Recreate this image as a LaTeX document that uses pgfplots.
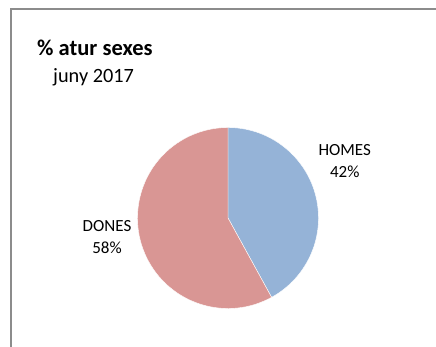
\documentclass[border=0pt]{standalone}
\usepackage{pgfplots}
\usepackage{pgfplotstable}
\usepackage{fontspec}
\setmainfont{Carlito}
\pgfplotsset{compat=1.18}
\definecolor{homes}{HTML}{95B3D7}
\definecolor{dones}{HTML}{D99694}
\definecolor{frame}{HTML}{8C8C8C}
\pgfplotstableread{
label value
HOMES 42
DONES 58
}\piedata
\begin{document}
\begin{tikzpicture}[x=1pt,y=1pt]
\useasboundingbox (0,0) rectangle (436,347);
\draw[frame, line width=1.4pt] (11,0) -- (11,338) -- (436,338);
\node[anchor=base west, inner sep=0pt, font=\fontsize{22.5}{26}\selectfont\bfseries] at (37,291) {\% atur sexes};
\node[anchor=base west, inner sep=0pt, font=\fontsize{20.3}{24}\selectfont] at (53,264) {juny 2017};
\pgfplotstablegetelem{0}{value}\of\piedata \let\va\pgfplotsretval
\pgfplotstablegetelem{1}{value}\of\piedata \let\vb\pgfplotsretval
\pgfmathsetmacro{\aend}{90-3.6*\va}
\begin{axis}[
  at={(228pt,129pt)}, anchor=origin,
  scale only axis, width=181pt, height=181pt,
  xmin=-1, xmax=1, ymin=-1, ymax=1,
  hide axis, clip=false,
]
\fill[homes, draw=white, line width=0.4pt] (axis cs:0,0) -- (axis cs:0,1) arc[start angle=90, end angle=\aend, radius=90.5pt] -- cycle;
\fill[dones, draw=white, line width=0.4pt] (axis cs:0,0) -- (axis cs:{cos(\aend)},{sin(\aend)}) arc[start angle=\aend, end angle=-270, radius=90.5pt] -- cycle;
\node[align=center, font=\fontsize{17}{22}\selectfont, inner sep=0pt] at (axis cs:1.29,0.63) {HOMES\\\pgfmathprintnumber[assume math mode=true]{\va}\%};
\node[align=center, font=\fontsize{17}{22}\selectfont, inner sep=0pt] at (axis cs:-1.337,-0.215) {DONES\\\pgfmathprintnumber[assume math mode=true]{\vb}\%};
\end{axis}
\end{tikzpicture}
\end{document}
